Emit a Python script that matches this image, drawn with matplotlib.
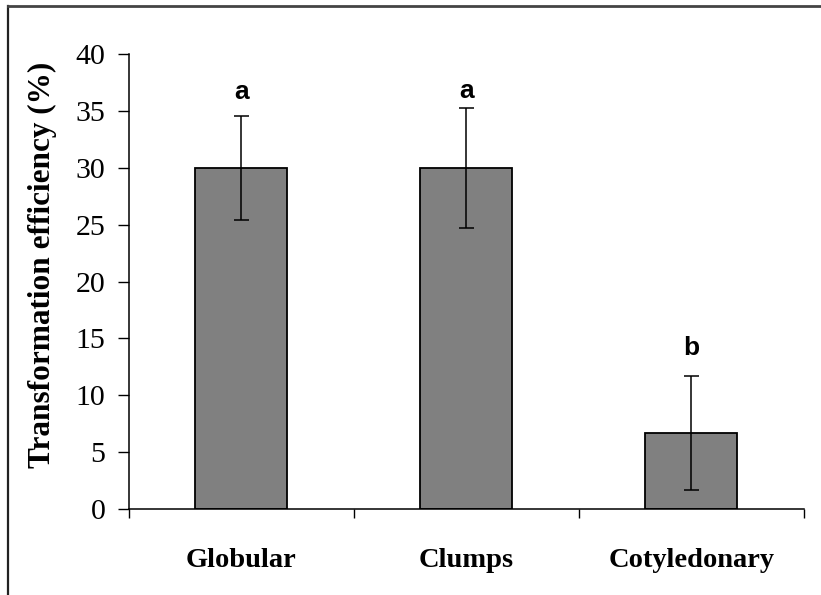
import matplotlib.pyplot as plt
from matplotlib.lines import Line2D

categories = ['Globular', 'Clumps', 'Cotyledonary']
efficiency = [30.0, 30.0, 6.7]
errors = [4.6, 5.3, 5.0]
letters = ['a', 'a', 'b']
letter_heights = [36.7, 36.8, 14.2]

fig = plt.figure(figsize=(8.21, 5.95), dpi=100)
ax = fig.add_axes([0.157, 0.1445, 0.822, 0.7645])

x = list(range(len(categories)))
ax.bar(x, efficiency, width=0.41, color='#808080', edgecolor='black', linewidth=1.3, zorder=2)
ax.errorbar(x, efficiency, yerr=errors, fmt='none', ecolor='black', elinewidth=1.1,
            capsize=5.4, capthick=1.1, zorder=3)

for xi, h, lab in zip(x, letter_heights, letters):
    ax.text(xi, h, lab, ha='center', va='center', fontsize=19,
            fontweight='bold', family='Liberation Sans')

ax.set_xlim(-0.5, 2.5)
ax.set_ylim(0, 40)
ax.set_yticks(range(0, 41, 5))

# ticks at category boundaries, labels at centres
ax.set_xticks([-0.5, 0.5, 1.5, 2.5])
ax.set_xticklabels([])
ax.set_xticks(x, minor=True)
ax.set_xticklabels(categories, minor=True, fontsize=20.5, fontweight='bold', family='Liberation Serif')
ax.tick_params(axis='x', which='minor', length=0, pad=28)
ax.tick_params(axis='x', which='major', direction='out', length=6.5, width=1)
ax.tick_params(axis='y', direction='out', length=8, width=1, pad=9)
for t in ax.get_yticklabels():
    t.set_fontfamily('Liberation Serif')
    t.set_fontsize(21.5)

ax.set_ylabel('Transformation efficiency (%)', fontsize=22.5, fontweight='bold',
              family='Liberation Serif')
ax.yaxis.set_label_coords(-0.106, 0.536)

for s in ['top', 'right']:
    ax.spines[s].set_visible(False)
for s in ['left', 'bottom']:
    ax.spines[s].set_linewidth(1.1)

# outer frame (left and top edges)
fig.add_artist(Line2D([8 / 821, 8 / 821], [0, 1 - 6 / 595], transform=fig.transFigure,
                      color='#222222', linewidth=1.6))
fig.add_artist(Line2D([8 / 821, 1], [1 - 6 / 595, 1 - 6 / 595], transform=fig.transFigure,
                      color='#444444', linewidth=2.0))

plt.savefig('out.png', dpi=100)
plt.close()
